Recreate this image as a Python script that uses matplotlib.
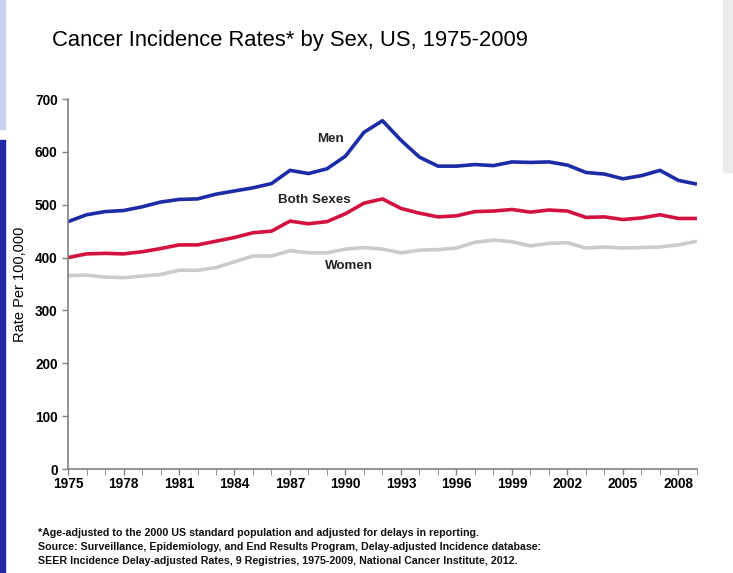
import matplotlib
matplotlib.use('Agg')
import matplotlib.pyplot as plt
import numpy as np
from matplotlib.patches import Rectangle

years = list(range(1975, 2010))
men = [468, 481, 487, 489, 496, 505, 510, 511, 520, 526, 532, 540, 565, 559, 568, 592,
       637, 659, 622, 590, 573, 573, 576, 574, 581, 580, 581, 575, 561, 558, 549, 555,
       565, 546, 539]
both = [400, 407, 408, 407, 411, 417, 424, 424, 431, 438, 447, 450, 469, 464, 468, 483,
        503, 511, 493, 484, 477, 479, 487, 488, 491, 486, 490, 488, 476, 477, 472, 475,
        481, 474, 474]
women = [366, 367, 363, 362, 365, 368, 376, 376, 381, 392, 403, 403, 413, 409, 409, 416,
         419, 416, 409, 414, 415, 418, 429, 433, 430, 422, 427, 428, 418, 420, 418, 419,
         420, 424, 431]
xtick_years = list(range(1975, 2010, 3))
yticks = list(range(0, 701, 100))

plt.rcParams['font.family'] = ['Liberation Sans', 'DejaVu Sans']

fig = plt.figure(figsize=(7.33, 5.73), dpi=100)
ax = fig.add_axes([0.0928, 0.1815, 0.858, 0.6457])

# slide decorations at the edges
fig.patches.append(Rectangle((0, 0), 0.007, 0.755, transform=fig.transFigure,
                             color='#2326a8', zorder=0))
fig.patches.append(Rectangle((0, 0.775), 0.007, 0.225, transform=fig.transFigure,
                             color='#c9d3ee', zorder=0))
fig.patches.append(Rectangle((0.986, 0.70), 0.014, 0.30, transform=fig.transFigure,
                             color='#ececec', zorder=0))

ax.plot(years, women, color='#cbcbcb', lw=2.6, solid_capstyle='butt')
ax.plot(years, both, color='#d3123f', lw=2.6, solid_capstyle='butt')
ax.plot(years, men, color='#1c2ca6', lw=2.6, solid_capstyle='butt')

ax.text(1989.2, 624, 'Men', fontsize=9.6, fontweight='bold', color='#222222', ha='center', va='center')
ax.text(1988.3, 509, 'Both Sexes', fontsize=9.6, fontweight='bold', color='#222222', ha='center', va='center')
ax.text(1990.2, 384, 'Women', fontsize=9.6, fontweight='bold', color='#222222', ha='center', va='center')

ax.set_xlim(1975, 2009)
ax.set_ylim(0, 700)
ax.set_xticks(xtick_years)
ax.set_xticks(years, minor=True)
ax.set_yticks(yticks)
for lab in ax.get_xticklabels() + ax.get_yticklabels():
    lab.set_fontweight('bold')
    lab.set_fontsize(9.8)
ax.tick_params(axis='both', direction='out', color='#808080', width=1, length=4)
ax.tick_params(axis='x', which='minor', direction='out', color='#808080', length=4)
ax.tick_params(axis='x', pad=2)
for s in ['top', 'right']:
    ax.spines[s].set_visible(False)
for s in ['left', 'bottom']:
    ax.spines[s].set_color('#808080')
    ax.spines[s].set_linewidth(1.2)

ax.set_ylabel('Rate Per 100,000', fontsize=10.5)
ax.yaxis.set_label_coords(-0.066, 0.5)

fig.text(0.071, 0.93, 'Cancer Incidence Rates* by Sex, US, 1975-2009', fontsize=15.8,
         va='center', ha='left')

notes = ['*Age-adjusted to the 2000 US standard population and adjusted for delays in reporting.',
         'Source: Surveillance, Epidemiology, and End Results Program, Delay-adjusted Incidence database:',
         'SEER Incidence Delay-adjusted Rates, 9 Registries, 1975-2009, National Cancer Institute, 2012.']
for i, line in enumerate(notes):
    fig.text(0.052, 0.070 - i * 0.0245, line, fontsize=7.7, fontweight='bold',
             va='center', ha='left', color='#111111')

fig.savefig('out.png', dpi=100)
